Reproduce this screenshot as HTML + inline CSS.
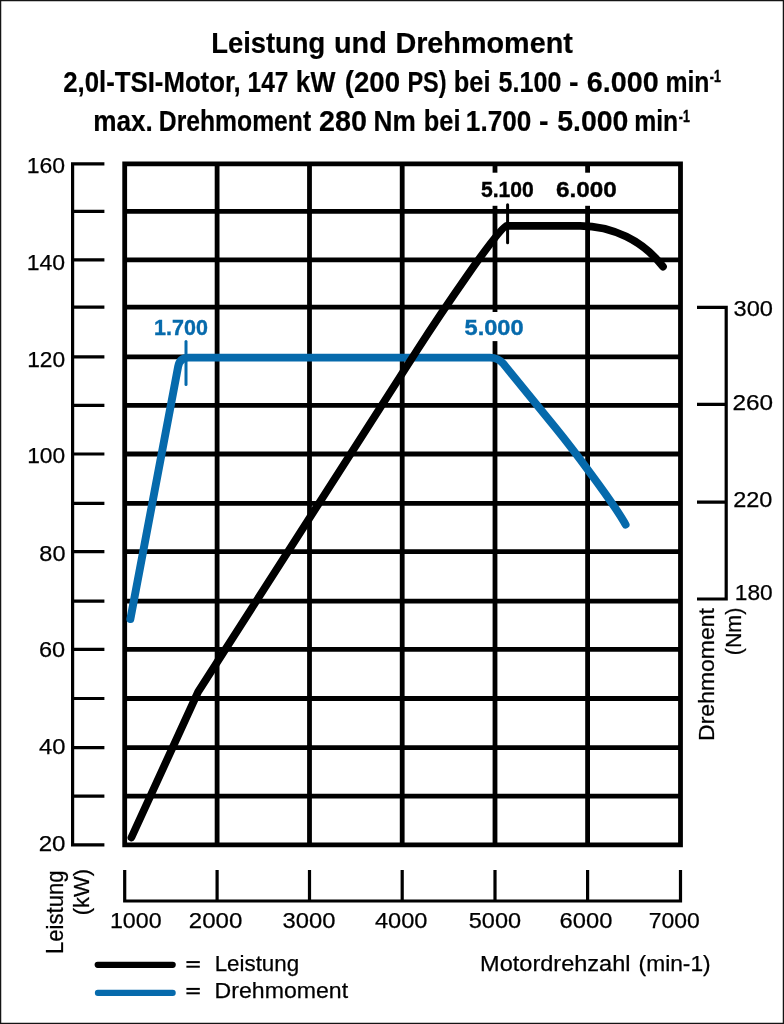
<!DOCTYPE html>
<html><head><meta charset="utf-8"><style>
html,body{margin:0;padding:0;background:#fff;width:784px;height:1024px;overflow:hidden}
svg{display:block;will-change:transform}
text{font-family:"Liberation Sans",sans-serif;white-space:pre}
</style></head><body>
<svg width="784" height="1024" viewBox="0 0 784 1024">
<rect x="0.6" y="0.6" width="782.8" height="1022.8" fill="#fff" stroke="#141414" stroke-width="1.3"/>
<path d="M122.30 163.90H682.90 M122.30 211.40H682.90 M122.30 259.90H682.90 M122.30 307.20H682.90 M122.30 356.80H682.90 M122.30 405.40H682.90 M122.30 454.00H682.90 M122.30 503.40H682.90 M122.30 551.70H682.90 M122.30 601.10H682.90 M122.30 649.30H682.90 M122.30 698.50H682.90 M122.30 747.60H682.90 M122.30 796.10H682.90 M122.30 844.90H682.90 M124.70 161.50V847.30 M217.10 161.50V847.30 M309.50 161.50V847.30 M402.20 161.50V847.30 M495.00 161.50V847.30 M587.60 161.50V847.30 M680.50 161.50V847.30" stroke="#000" stroke-width="4.8" fill="none"/>
<path d="M72.60 162.30V846.50 M71.00 163.90H104.4 M71.00 211.40H104.4 M71.00 259.90H104.4 M71.00 307.20H104.4 M71.00 356.80H104.4 M71.00 405.40H104.4 M71.00 454.00H104.4 M71.00 503.40H104.4 M71.00 551.70H104.4 M71.00 601.10H104.4 M71.00 649.30H104.4 M71.00 698.50H104.4 M71.00 747.60H104.4 M71.00 796.10H104.4 M71.00 844.90H104.4" stroke="#000" stroke-width="3.2" fill="none"/>
<path d="M726.20 305.80V600.60 M697 307.40H727.80 M697 404.40H727.80 M697 502.20H727.80 M697 599.00H727.80" stroke="#000" stroke-width="3.2" fill="none"/>
<path d="M123.10 901.00H682.10 M124.70 870V902.60 M217.10 870V902.60 M309.50 870V902.60 M402.20 870V902.60 M495.00 870V902.60 M587.60 870V902.60 M680.50 870V902.60" stroke="#000" stroke-width="3.2" fill="none"/>
<rect x="470" y="172.7" width="140" height="33.1" fill="#fff"/>
<rect x="462" y="312" width="64" height="29.1" fill="#fff"/>
<path d="M130.4 619 L178.1 366.7 Q179.75 357.6 188.75 357.6 L490 357.6 Q498.33 357.6 503.4 363.8 L556.5 429.1 C569.1 444.6 612.96 501.64 625.6 524.6" stroke="#066aac" stroke-width="7.9" fill="none" stroke-linecap="round" stroke-linejoin="round"/>
<path d="M131.4 837.5 L198.1 691.9 L417.22 350 C439.35 315.47 499.99 225.8 506.22 225.8 L580 225.8 A105 105 0 0 1 663 266.6" stroke="#000" stroke-width="7.7" fill="none" stroke-linecap="round" stroke-linejoin="round"/>
<path d="M507.6 204.8V242.8" stroke="#000" stroke-width="3" fill="none" stroke-linecap="round"/>
<path d="M186 341.6V384.5" stroke="#066aac" stroke-width="3" fill="none" stroke-linecap="round"/>
<path d="M97.7 964.8H172.7" stroke="#000" stroke-width="6.2" stroke-linecap="round"/>
<path d="M97.9 992.9H172.7" stroke="#066aac" stroke-width="6.1" stroke-linecap="round"/>
<rect x="186.4" y="961.1" width="13.4" height="2" fill="#000"/>
<rect x="186.4" y="965.7" width="13.4" height="2" fill="#000"/>
<rect x="186.4" y="987.9" width="13.4" height="2" fill="#000"/>
<rect x="186.4" y="992.3" width="13.4" height="2" fill="#000"/>
<text x="211.19" y="53.20" font-size="29.86" font-weight="bold" fill="#000" stroke="#000" stroke-width="0.2" textLength="114.06" lengthAdjust="spacingAndGlyphs">Leistung</text>
<text x="333.95" y="53.20" font-size="29.86" font-weight="bold" fill="#000" stroke="#000" stroke-width="0.2" textLength="52.90" lengthAdjust="spacingAndGlyphs">und</text>
<text x="395.40" y="53.20" font-size="29.86" font-weight="bold" fill="#000" stroke="#000" stroke-width="0.2" textLength="177.44" lengthAdjust="spacingAndGlyphs">Drehmoment</text>
<text x="63.19" y="92.00" font-size="30.14" font-weight="bold" fill="#000" stroke="#000" stroke-width="0.2" textLength="177.53" lengthAdjust="spacingAndGlyphs">2,0l-TSI-Motor,</text>
<text x="247.57" y="92.00" font-size="30.14" font-weight="bold" fill="#000" stroke="#000" stroke-width="0.2" textLength="40.82" lengthAdjust="spacingAndGlyphs">147</text>
<text x="295.75" y="92.00" font-size="30.14" font-weight="bold" fill="#000" stroke="#000" stroke-width="0.2" textLength="39.71" lengthAdjust="spacingAndGlyphs">kW</text>
<text x="344.80" y="92.00" font-size="30.14" font-weight="bold" fill="#000" stroke="#000" stroke-width="0.2" textLength="55.32" lengthAdjust="spacingAndGlyphs">(200</text>
<text x="407.43" y="92.00" font-size="30.14" font-weight="bold" fill="#000" stroke="#000" stroke-width="0.2" textLength="39.11" lengthAdjust="spacingAndGlyphs">PS)</text>
<text x="453.81" y="92.00" font-size="30.14" font-weight="bold" fill="#000" stroke="#000" stroke-width="0.2" textLength="36.69" lengthAdjust="spacingAndGlyphs">bei</text>
<text x="498.61" y="92.00" font-size="30.14" font-weight="bold" fill="#000" stroke="#000" stroke-width="0.2" textLength="62.71" lengthAdjust="spacingAndGlyphs">5.100</text>
<text x="569.11" y="92.00" font-size="30.14" font-weight="bold" fill="#000" stroke="#000" stroke-width="0.2" textLength="9.53" lengthAdjust="spacingAndGlyphs">-</text>
<text x="586.70" y="92.00" font-size="30.14" font-weight="bold" fill="#000" stroke="#000" stroke-width="0.2" textLength="71.96" lengthAdjust="spacingAndGlyphs">6.000</text>
<text x="665.45" y="92.00" font-size="30.14" font-weight="bold" fill="#000" stroke="#000" stroke-width="0.2" textLength="44.05" lengthAdjust="spacingAndGlyphs">min</text>
<text x="709.81" y="82.30" font-size="17.14" font-weight="bold" fill="#000" stroke="#000" stroke-width="0.4" textLength="10.99" lengthAdjust="spacingAndGlyphs">-1</text>
<text x="93.16" y="130.90" font-size="29.86" font-weight="bold" fill="#000" stroke="#000" stroke-width="0.2" textLength="59.68" lengthAdjust="spacingAndGlyphs">max.</text>
<text x="158.86" y="130.90" font-size="29.86" font-weight="bold" fill="#000" stroke="#000" stroke-width="0.2" textLength="152.26" lengthAdjust="spacingAndGlyphs">Drehmoment</text>
<text x="319.10" y="130.90" font-size="29.86" font-weight="bold" fill="#000" stroke="#000" stroke-width="0.2" textLength="47.96" lengthAdjust="spacingAndGlyphs">280</text>
<text x="373.46" y="130.90" font-size="29.86" font-weight="bold" fill="#000" stroke="#000" stroke-width="0.2" textLength="42.24" lengthAdjust="spacingAndGlyphs">Nm</text>
<text x="423.81" y="130.90" font-size="29.86" font-weight="bold" fill="#000" stroke="#000" stroke-width="0.2" textLength="36.69" lengthAdjust="spacingAndGlyphs">bei</text>
<text x="465.86" y="130.90" font-size="29.86" font-weight="bold" fill="#000" stroke="#000" stroke-width="0.2" textLength="65.50" lengthAdjust="spacingAndGlyphs">1.700</text>
<text x="539.11" y="130.90" font-size="29.86" font-weight="bold" fill="#000" stroke="#000" stroke-width="0.2" textLength="9.53" lengthAdjust="spacingAndGlyphs">-</text>
<text x="557.16" y="130.90" font-size="29.86" font-weight="bold" fill="#000" stroke="#000" stroke-width="0.2" textLength="71.20" lengthAdjust="spacingAndGlyphs">5.000</text>
<text x="634.15" y="130.90" font-size="29.86" font-weight="bold" fill="#000" stroke="#000" stroke-width="0.2" textLength="44.05" lengthAdjust="spacingAndGlyphs">min</text>
<text x="678.81" y="121.60" font-size="17.14" font-weight="bold" fill="#000" stroke="#000" stroke-width="0.4" textLength="10.99" lengthAdjust="spacingAndGlyphs">-1</text>
<text x="26.76" y="172.70" font-size="22.43" fill="#000" stroke="#000" stroke-width="0.25" textLength="38.41" lengthAdjust="spacingAndGlyphs">160</text>
<text x="26.76" y="269.60" font-size="22.43" fill="#000" stroke="#000" stroke-width="0.25" textLength="38.41" lengthAdjust="spacingAndGlyphs">140</text>
<text x="27.18" y="366.50" font-size="22.43" fill="#000" stroke="#000" stroke-width="0.25" textLength="37.99" lengthAdjust="spacingAndGlyphs">120</text>
<text x="27.18" y="463.00" font-size="22.14" fill="#000" stroke="#000" stroke-width="0.25" textLength="37.99" lengthAdjust="spacingAndGlyphs">100</text>
<text x="39.37" y="560.50" font-size="22.43" fill="#000" stroke="#000" stroke-width="0.25" textLength="26.12" lengthAdjust="spacingAndGlyphs">80</text>
<text x="39.00" y="657.00" font-size="22.43" fill="#000" stroke="#000" stroke-width="0.25" textLength="26.19" lengthAdjust="spacingAndGlyphs">60</text>
<text x="39.03" y="753.70" font-size="22.29" fill="#000" stroke="#000" stroke-width="0.25" textLength="26.46" lengthAdjust="spacingAndGlyphs">40</text>
<text x="38.67" y="850.70" font-size="22.43" fill="#000" stroke="#000" stroke-width="0.25" textLength="26.83" lengthAdjust="spacingAndGlyphs">20</text>
<text x="733.56" y="316.40" font-size="22.43" fill="#000" stroke="#000" stroke-width="0.25" textLength="39.43" lengthAdjust="spacingAndGlyphs">300</text>
<text x="732.46" y="410.00" font-size="22.14" fill="#000" stroke="#000" stroke-width="0.25" textLength="40.65" lengthAdjust="spacingAndGlyphs">260</text>
<text x="733.20" y="507.30" font-size="22.43" fill="#000" stroke="#000" stroke-width="0.25" textLength="39.19" lengthAdjust="spacingAndGlyphs">220</text>
<text x="734.78" y="600.40" font-size="22.43" fill="#000" stroke="#000" stroke-width="0.25" textLength="37.88" lengthAdjust="spacingAndGlyphs">180</text>
<text x="109.95" y="927.50" font-size="22.71" fill="#000" stroke="#000" stroke-width="0.25" textLength="51.63" lengthAdjust="spacingAndGlyphs">1000</text>
<text x="188.77" y="927.50" font-size="22.71" fill="#000" stroke="#000" stroke-width="0.25" textLength="53.63" lengthAdjust="spacingAndGlyphs">2000</text>
<text x="282.46" y="927.50" font-size="22.71" fill="#000" stroke="#000" stroke-width="0.25" textLength="52.94" lengthAdjust="spacingAndGlyphs">3000</text>
<text x="374.93" y="927.50" font-size="22.71" fill="#000" stroke="#000" stroke-width="0.25" textLength="52.56" lengthAdjust="spacingAndGlyphs">4000</text>
<text x="468.77" y="927.50" font-size="22.71" fill="#000" stroke="#000" stroke-width="0.25" textLength="52.32" lengthAdjust="spacingAndGlyphs">5000</text>
<text x="559.59" y="927.50" font-size="22.71" fill="#000" stroke="#000" stroke-width="0.25" textLength="52.80" lengthAdjust="spacingAndGlyphs">6000</text>
<text x="648.82" y="927.50" font-size="22.71" fill="#000" stroke="#000" stroke-width="0.25" textLength="51.05" lengthAdjust="spacingAndGlyphs">7000</text>
<text x="480.06" y="970.70" font-size="21.57" fill="#000" stroke="#000" stroke-width="0.25" textLength="150.49" lengthAdjust="spacingAndGlyphs">Motordrehzahl</text>
<text x="638.63" y="970.70" font-size="21.57" fill="#000" stroke="#000" stroke-width="0.25" textLength="72.04" lengthAdjust="spacingAndGlyphs">(min-1)</text>
<text x="214.65" y="970.60" font-size="22.57" fill="#000" stroke="#000" stroke-width="0.25" textLength="84.50" lengthAdjust="spacingAndGlyphs">Leistung</text>
<text x="214.60" y="997.80" font-size="22.57" fill="#000" stroke="#000" stroke-width="0.25" textLength="133.53" lengthAdjust="spacingAndGlyphs">Drehmoment</text>
<text x="480.97" y="197.10" font-size="22.71" font-weight="bold" fill="#000" stroke="#000" stroke-width="0.4" textLength="52.89" lengthAdjust="spacingAndGlyphs">5.100</text>
<text x="556.04" y="197.10" font-size="22.71" font-weight="bold" fill="#000" stroke="#000" stroke-width="0.4" textLength="60.85" lengthAdjust="spacingAndGlyphs">6.000</text>
<text x="154.06" y="335.40" font-size="22.71" font-weight="bold" fill="#066aac" stroke="#066aac" stroke-width="0.4" textLength="53.82" lengthAdjust="spacingAndGlyphs">1.700</text>
<text x="464.53" y="335.40" font-size="22.71" font-weight="bold" fill="#066aac" stroke="#066aac" stroke-width="0.4" textLength="59.13" lengthAdjust="spacingAndGlyphs">5.000</text>
<g transform="translate(63 952.3) rotate(-90)"><text x="-1.73" y="0.00" font-size="23.43" fill="#000" stroke="#000" stroke-width="0.25" textLength="83.57" lengthAdjust="spacingAndGlyphs">Leistung</text></g>
<g transform="translate(88.8 914.2) rotate(-90)"><text x="-1.03" y="0.00" font-size="22.86" fill="#000" stroke="#000" stroke-width="0.25" textLength="46.37" lengthAdjust="spacingAndGlyphs">(kW)</text></g>
<g transform="translate(714.2 739.1) rotate(-90)"><text x="-1.80" y="0.00" font-size="22.71" fill="#000" stroke="#000" stroke-width="0.25" textLength="132.82" lengthAdjust="spacingAndGlyphs">Drehmoment</text></g>
<g transform="translate(740.5 654.2) rotate(-90)"><text x="-1.00" y="0.00" font-size="22.71" fill="#000" stroke="#000" stroke-width="0.25" textLength="47.51" lengthAdjust="spacingAndGlyphs">(Nm)</text></g>
</svg>
</body></html>
